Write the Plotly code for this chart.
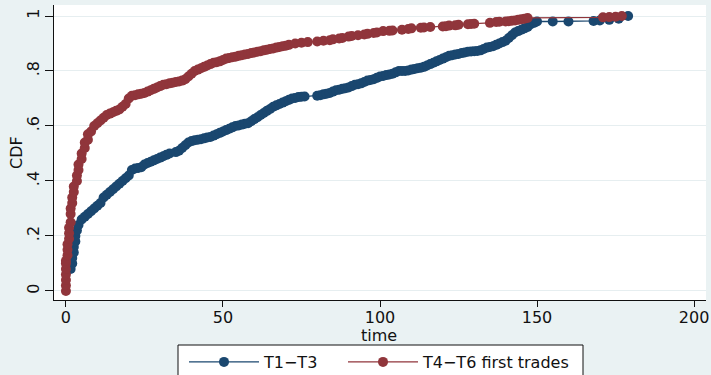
import plotly.graph_objects as go

# T1-T3 (navy) CDF points
t13_time = [1.5, 2, 2, 2.5, 2.5, 3, 3, 3.5, 4, 5, 6, 7, 8, 9, 10, 11, 12, 13, 14, 15,
            16, 17, 18, 19, 20, 21, 22, 23, 24, 25, 26, 27, 28, 29, 30, 31, 32, 33, 35, 36,
            37, 38, 39, 40, 41, 42, 43, 44, 45, 46, 47, 48, 49, 50, 51, 52, 53, 54, 55, 56,
            57, 58, 59, 60, 61, 62, 63, 64, 65, 66, 67, 68, 69, 70, 71, 72, 73, 74, 75, 76,
            80, 81, 82, 83, 84, 85, 86, 87, 88, 89, 90, 91, 92, 93, 94, 95, 96, 97, 98, 99,
            100, 101, 102, 103, 104, 105, 106, 107, 108, 109, 110, 111, 112, 113, 114, 115, 116, 117, 118, 119,
            120, 121, 122, 123, 124, 125, 126, 127, 128, 129, 130, 131, 132, 133, 134, 135, 136, 137, 138, 139,
            140, 141, 142, 143, 144, 145, 146, 147, 148, 149, 150, 155, 160, 168, 170, 173, 176, 179]
t13_cdf = [0.08, 0.10, 0.12, 0.14, 0.16, 0.18, 0.20, 0.22, 0.24, 0.26, 0.27, 0.28, 0.29, 0.30, 0.31, 0.32, 0.34, 0.35, 0.36, 0.37,
           0.38, 0.39, 0.40, 0.41, 0.42, 0.44, 0.445, 0.447, 0.45, 0.46, 0.465, 0.47, 0.475, 0.48, 0.485, 0.49, 0.495, 0.50, 0.505, 0.51,
           0.52, 0.53, 0.54, 0.545, 0.548, 0.55, 0.552, 0.555, 0.558, 0.56, 0.565, 0.57, 0.575, 0.58, 0.585, 0.59, 0.595, 0.60, 0.602, 0.605,
           0.608, 0.61, 0.617, 0.625, 0.632, 0.64, 0.647, 0.655, 0.662, 0.67, 0.675, 0.68, 0.685, 0.69, 0.695, 0.70, 0.702, 0.705, 0.706, 0.707,
           0.71, 0.712, 0.715, 0.717, 0.72, 0.725, 0.73, 0.732, 0.735, 0.737, 0.74, 0.745, 0.75, 0.752, 0.755, 0.76, 0.765, 0.767, 0.77, 0.775,
           0.78, 0.782, 0.785, 0.787, 0.79, 0.795, 0.80, 0.80, 0.80, 0.802, 0.805, 0.807, 0.81, 0.812, 0.815, 0.82, 0.825, 0.83, 0.835, 0.84,
           0.845, 0.85, 0.855, 0.857, 0.86, 0.862, 0.865, 0.867, 0.87, 0.871, 0.872, 0.873, 0.875, 0.88, 0.885, 0.887, 0.89, 0.895, 0.90, 0.905,
           0.91, 0.92, 0.93, 0.94, 0.945, 0.95, 0.955, 0.96, 0.97, 0.975, 0.98, 0.98, 0.98, 0.982, 0.984, 0.986, 0.99, 1.0]

# T4-T6 first trades (maroon) CDF points
t46_time = [0, 0, 0, 0, 0, 0, 0, 0.5, 0.5, 0.5, 1, 1, 1, 1.5, 1.5, 1.5, 2, 2, 2.5, 2.5,
            3.5, 3.5, 4, 4, 5, 5, 6, 6, 7, 7, 8, 9, 10, 11, 12, 13, 14, 15, 16, 17,
            18, 19, 20, 21, 22, 23, 24, 25, 26, 27, 28, 29, 30, 31, 32, 33, 34, 35, 36, 37,
            38, 39, 40, 41, 42, 43, 44, 45, 46, 47, 48, 49, 50, 51, 52, 53, 54, 55, 56, 57,
            58, 59, 60, 61, 62, 63, 64, 65, 66, 67, 68, 69, 70, 71, 73, 75, 77, 80, 82, 84,
            85, 87, 88, 90, 91, 93, 95, 96, 98, 99, 101, 103, 104, 107, 109, 110, 113, 114, 116, 120,
            121, 122, 124, 125, 128, 129, 130, 135, 137, 138, 140, 141, 142, 143, 144, 145, 146, 147, 171, 173,
            175, 177]
t46_cdf = [0.0, 0.02, 0.04, 0.06, 0.08, 0.10, 0.11, 0.13, 0.15, 0.17, 0.19, 0.21, 0.23, 0.25, 0.28, 0.30, 0.32, 0.34, 0.36, 0.38,
           0.40, 0.42, 0.44, 0.46, 0.48, 0.50, 0.52, 0.54, 0.55, 0.57, 0.58, 0.60, 0.61, 0.62, 0.63, 0.64, 0.645, 0.65, 0.655, 0.66,
           0.67, 0.68, 0.70, 0.71, 0.712, 0.715, 0.717, 0.72, 0.725, 0.73, 0.735, 0.74, 0.745, 0.75, 0.752, 0.755, 0.757, 0.76, 0.762, 0.765,
           0.77, 0.78, 0.79, 0.80, 0.805, 0.81, 0.815, 0.82, 0.825, 0.83, 0.832, 0.835, 0.84, 0.845, 0.847, 0.85, 0.852, 0.855, 0.857, 0.86,
           0.862, 0.865, 0.867, 0.87, 0.872, 0.875, 0.877, 0.88, 0.882, 0.885, 0.887, 0.89, 0.892, 0.895, 0.90, 0.903, 0.905, 0.907, 0.91, 0.912,
           0.915, 0.918, 0.92, 0.925, 0.927, 0.93, 0.933, 0.935, 0.938, 0.94, 0.945, 0.946, 0.947, 0.95, 0.953, 0.955, 0.957, 0.958, 0.96, 0.962,
           0.963, 0.965, 0.966, 0.968, 0.97, 0.971, 0.972, 0.975, 0.978, 0.979, 0.98, 0.981, 0.983, 0.984, 0.986, 0.988, 0.99, 0.993, 0.995, 0.996,
           0.997, 1.0]

series_names = ["T1−T3", "T4−T6 first trades"]
series_colors = ["#1A476F", "#90353B"]

x_ticks = [0, 50, 100, 150, 200]
y_ticks = [0, 0.2, 0.4, 0.6, 0.8, 1]
y_tick_labels = ["0", ".2", ".4", ".6", ".8", "1"]
x_title = "time"
y_title = "CDF"

BG = "#EAF2F3"
FONT = "DejaVu Sans, Liberation Sans, Arial, sans-serif"
W, H = 711, 375
ML, MR, MT, MB = 54, 5, 5, 75
PW, PH = W - ML - MR, H - MT - MB


def px_to_paper_x(px):
    return (px - ML) / PW


def px_to_paper_y(py):
    return (H - MB - py) / PH


fig = go.Figure()
legend_ids = ["legend", "legend2"]
for xs, ys, name, col, lg in [(t13_time, t13_cdf, series_names[0], series_colors[0], legend_ids[0]),
                              (t46_time, t46_cdf, series_names[1], series_colors[1], legend_ids[1])]:
    fig.add_trace(go.Scatter(
        x=xs, y=ys, name=name, mode="lines+markers", legend=lg,
        line=dict(color=col, width=1.3),
        marker=dict(color=col, size=10, line=dict(width=0)),
    ))

legend_common = dict(
    orientation="h", xref="container", xanchor="left",
    y=0.08, yref="container", yanchor="top",
    bgcolor="rgba(0,0,0,0)", borderwidth=0,
    font=dict(size=16), itemwidth=70,
)

fig.update_layout(
    width=W, height=H,
    paper_bgcolor=BG, plot_bgcolor="white",
    margin=dict(l=ML, r=MR, t=MT, b=MB, autoexpand=False),
    font=dict(family=FONT, size=16, color="#111111"),
    showlegend=True,
    legend=dict(x=184 / W, **legend_common),
    legend2=dict(x=343 / W, **legend_common),
    xaxis=dict(
        range=[-3.8, 203.8], tickvals=x_ticks, ticks="outside", ticklen=6,
        tickcolor="#111111", showline=True, linecolor="#111111", linewidth=1,
        showgrid=False, zeroline=False, automargin=False, ticklabelstandoff=-3,
    ),
    yaxis=dict(
        range=[-0.033, 1.04], tickvals=y_ticks, ticktext=y_tick_labels,
        tickangle=-90, ticks="outside", ticklen=8, tickcolor="#111111",
        showline=True, linecolor="#111111", linewidth=1,
        showgrid=True, gridcolor="#E6EEF0", gridwidth=1, zeroline=False,
        automargin=False,
    ),
    shapes=[dict(
        type="rect", xref="paper", yref="paper", layer="above",
        x0=px_to_paper_x(178), x1=px_to_paper_x(583),
        y0=px_to_paper_y(345), y1=px_to_paper_y(382),
        line=dict(color="#111111", width=1), fillcolor="white",
    )],
    annotations=[
        dict(text=x_title, xref="paper", yref="paper", showarrow=False,
             x=px_to_paper_x(379), y=px_to_paper_y(335), xanchor="center", yanchor="middle",
             font=dict(size=16)),
        dict(text=y_title, xref="paper", yref="paper", showarrow=False, textangle=-90,
             x=px_to_paper_x(16), y=px_to_paper_y(153), xanchor="center", yanchor="middle",
             font=dict(size=16)),
    ],
)

fig.write_html("out.html", config={"displayModeBar": False},
               post_script="document.body.style.margin='0';")
